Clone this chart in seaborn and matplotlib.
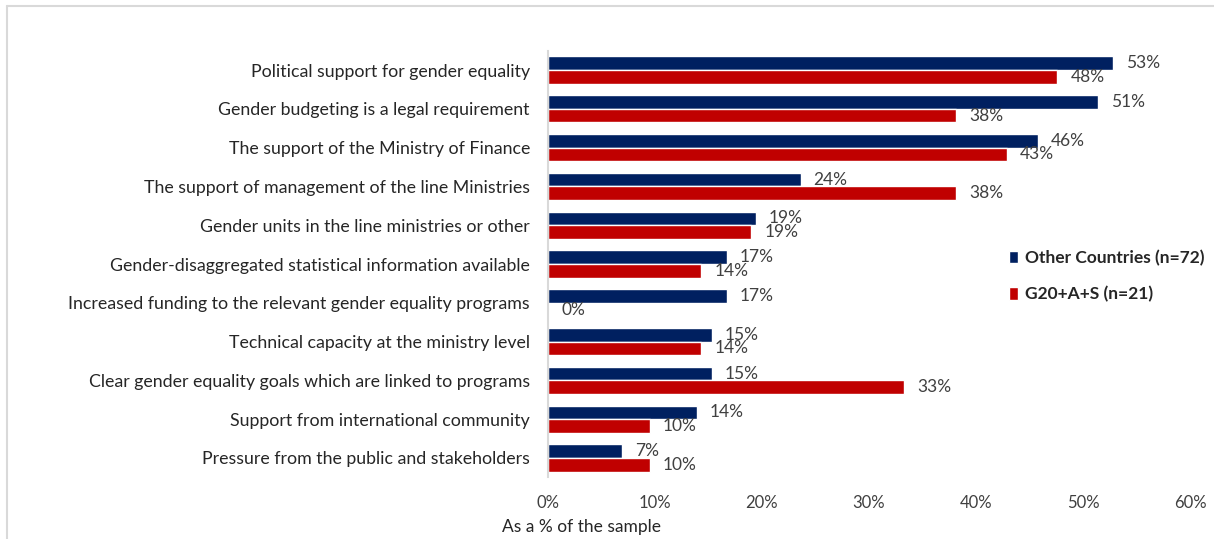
import pandas as pd
import matplotlib.pyplot as plt
import seaborn as sns
from matplotlib.patches import Patch

# Survey factors (top to bottom)
factors = [
    'Political support for gender equality',
    'Gender budgeting is a legal requirement',
    'The support of the Ministry of Finance',
    'The support of management of the line Ministries',
    'Gender units in the line ministries or other',
    'Gender-disaggregated statistical information available',
    'Increased funding to the relevant gender equality programs',
    'Technical capacity at the ministry level',
    'Clear gender equality goals which are linked to programs',
    'Support from international community',
    'Pressure from the public and stakeholders',
]
groups = ['Other Countries (n=72)', 'G20+A+S (n=21)']
other_countries = [52.8, 51.4, 45.8, 23.6, 19.4, 16.7, 16.7, 15.3, 15.3, 13.9, 6.9]
g20 = [47.6, 38.1, 42.9, 38.1, 19.0, 14.3, 0.0, 14.3, 33.3, 9.5, 9.5]
colors = ['#002060', '#C00000']
xticks = [0, 10, 20, 30, 40, 50, 60]

# Long format for seaborn
df = pd.DataFrame({
    'factor': factors * 2,
    'group': [groups[0]] * len(factors) + [groups[1]] * len(factors),
    'value': other_countries + g20,
})

sns.set_style('white')
plt.rcParams['font.family'] = ['Lato', 'DejaVu Sans']

fig = plt.figure(figsize=(12.14, 5.39), dpi=100)
ax = fig.add_axes([0.4514, 0.1143, 0.5288, 0.7918])

sns.barplot(data=df, y='factor', x='value', hue='group', order=factors,
            hue_order=groups, palette=colors, width=0.7, orient='h',
            saturation=1, legend=False, ax=ax)

# Value labels at bar ends
for cont in ax.containers:
    ax.bar_label(cont, labels=[f'{v:.0f}%' for v in cont.datavalues],
                 padding=9.5, fontsize=12.5, color='#404040')

ax.set_xlim(0, 60)
ax.set_xticks(xticks)
ax.set_xticklabels([f'{t}%' for t in xticks])
ax.set_xlabel('')
ax.set_ylabel('')
ax.tick_params(axis='x', length=0, pad=13, labelsize=12, labelcolor='#404040')
ax.tick_params(axis='y', length=0, pad=13, labelsize=12.8, labelcolor='#262626')

for side in ['top', 'right', 'bottom']:
    ax.spines[side].set_visible(False)
ax.spines['left'].set_color('#d9d9d9')
ax.spines['left'].set_linewidth(1.5)

fig.text(502 / 1214, 1 - 527 / 539, 'As a % of the sample',
         ha='left', va='center', fontsize=12.5, color='#262626')

handles = [Patch(facecolor=c, label=g) for c, g in zip(colors, groups)]
fig.legend(handles=handles, loc='center left',
           bbox_to_anchor=(993 / 1214, 1 - 276 / 539), frameon=False,
           handlelength=0.55, handleheight=0.75, handletextpad=0.4,
           labelspacing=1.15, prop={'weight': 'bold', 'size': 12.5})

# Light frame on top and left edges
fig.add_artist(plt.Line2D([7 / 1214, 1], [1 - 6 / 539, 1 - 6 / 539],
                          color='#d9d9d9', lw=1.5, transform=fig.transFigure))
fig.add_artist(plt.Line2D([7 / 1214, 7 / 1214], [0, 1 - 6 / 539],
                          color='#d9d9d9', lw=1.5, transform=fig.transFigure))

fig.savefig('out.png', dpi=100)
